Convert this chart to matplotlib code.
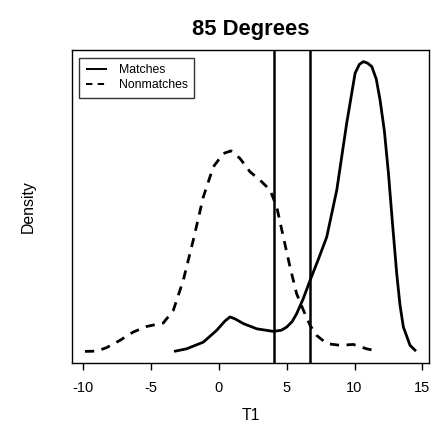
import matplotlib
matplotlib.use("Agg")
import matplotlib.pyplot as plt

plt.rcParams['font.family'] = ['Liberation Sans', 'DejaVu Sans']

match_x = [-3.31, -2.38, -1.15, -0.16, 0.45, 0.82, 1.2, 1.80, 2.79, 4.02, 4.6, 5.0, 5.4, 5.73,
           6.2, 6.72, 7.35, 7.95, 8.69, 9.42, 10.04, 10.35, 10.65, 10.95, 11.27, 11.6, 11.88,
           12.2, 12.50, 12.8, 13.11, 13.35, 13.6, 14.09, 14.53]
match_y = [0.0, 0.009, 0.032, 0.073, 0.105, 0.119, 0.112, 0.096, 0.078, 0.069, 0.073, 0.084, 0.103, 0.130,
           0.18, 0.245, 0.32, 0.395, 0.557, 0.787, 0.96, 0.99, 1.0, 0.995, 0.983, 0.94, 0.868,
           0.76, 0.614, 0.44, 0.268, 0.16, 0.084, 0.021, 0.001]

non_x = [-9.87, -9.01, -8.28, -7.3, -6.31, -5.33, -4.1, -3.36, -2.63, -1.89, -1.15, -0.41, 0.33, 0.89,
         1.55, 2.29, 3.03, 3.77, 4.26, 4.75, 5.24, 5.73, 6.23, 6.72, 7.21, 7.95, 8.93, 9.91, 10.89, 11.76]
non_y = [0.0, 0.001, 0.013, 0.038, 0.067, 0.086, 0.098, 0.142, 0.245, 0.384, 0.533, 0.637, 0.683, 0.692,
         0.666, 0.62, 0.591, 0.557, 0.499, 0.395, 0.292, 0.199, 0.142, 0.09, 0.055, 0.027, 0.021, 0.024, 0.009, 0.0]

density_scale = 0.25
cutoffs = [4.09, 6.69]
xticks = [-10, -5, 0, 5, 10, 15]

fig = plt.figure(figsize=(4.33, 4.26), dpi=100)
ax = fig.add_axes([0.1663, 0.1479, 0.8245, 0.7347])

ax.plot(match_x, [v * density_scale for v in match_y], color='black', lw=2.0, label='Matches',
        solid_joinstyle='round', solid_capstyle='butt')
ax.plot(non_x, [v * density_scale for v in non_y], color='black', lw=2.0, ls=(0, (3.3, 2.7)),
        label='Nonmatches')
for c in cutoffs:
    ax.axvline(c, color='black', lw=1.8)

peak = density_scale
ax.set_xlim(-10.83, 15.49)
ax.set_ylim(-0.04 * peak, 1.04 * peak)
ax.set_xticks(xticks)
ax.set_xticklabels([str(t) for t in xticks], fontsize=10.5)
ax.set_yticks([])
ax.tick_params(axis='x', length=5, width=1.0, pad=8)
for s in ax.spines.values():
    s.set_linewidth(1.0)

ax.set_xlabel('T1', fontsize=11.3, labelpad=9)
ax.set_ylabel('Density', fontsize=11.4, labelpad=26)
ax.set_title('85 Degrees', fontsize=15.8, fontweight='bold', pad=11)

leg = ax.legend(loc='upper left', bbox_to_anchor=(0.1824, 0.8646), bbox_transform=fig.transFigure,
                fontsize=8.8, frameon=True, fancybox=False, edgecolor='black', borderaxespad=0,
                handlelength=1.75, labelspacing=0.25, borderpad=0.55, handletextpad=0.95)
leg.get_frame().set_linewidth(1.0)
for h in leg.get_lines():
    h.set_linewidth(1.4)

fig.savefig('out.png', dpi=100)
